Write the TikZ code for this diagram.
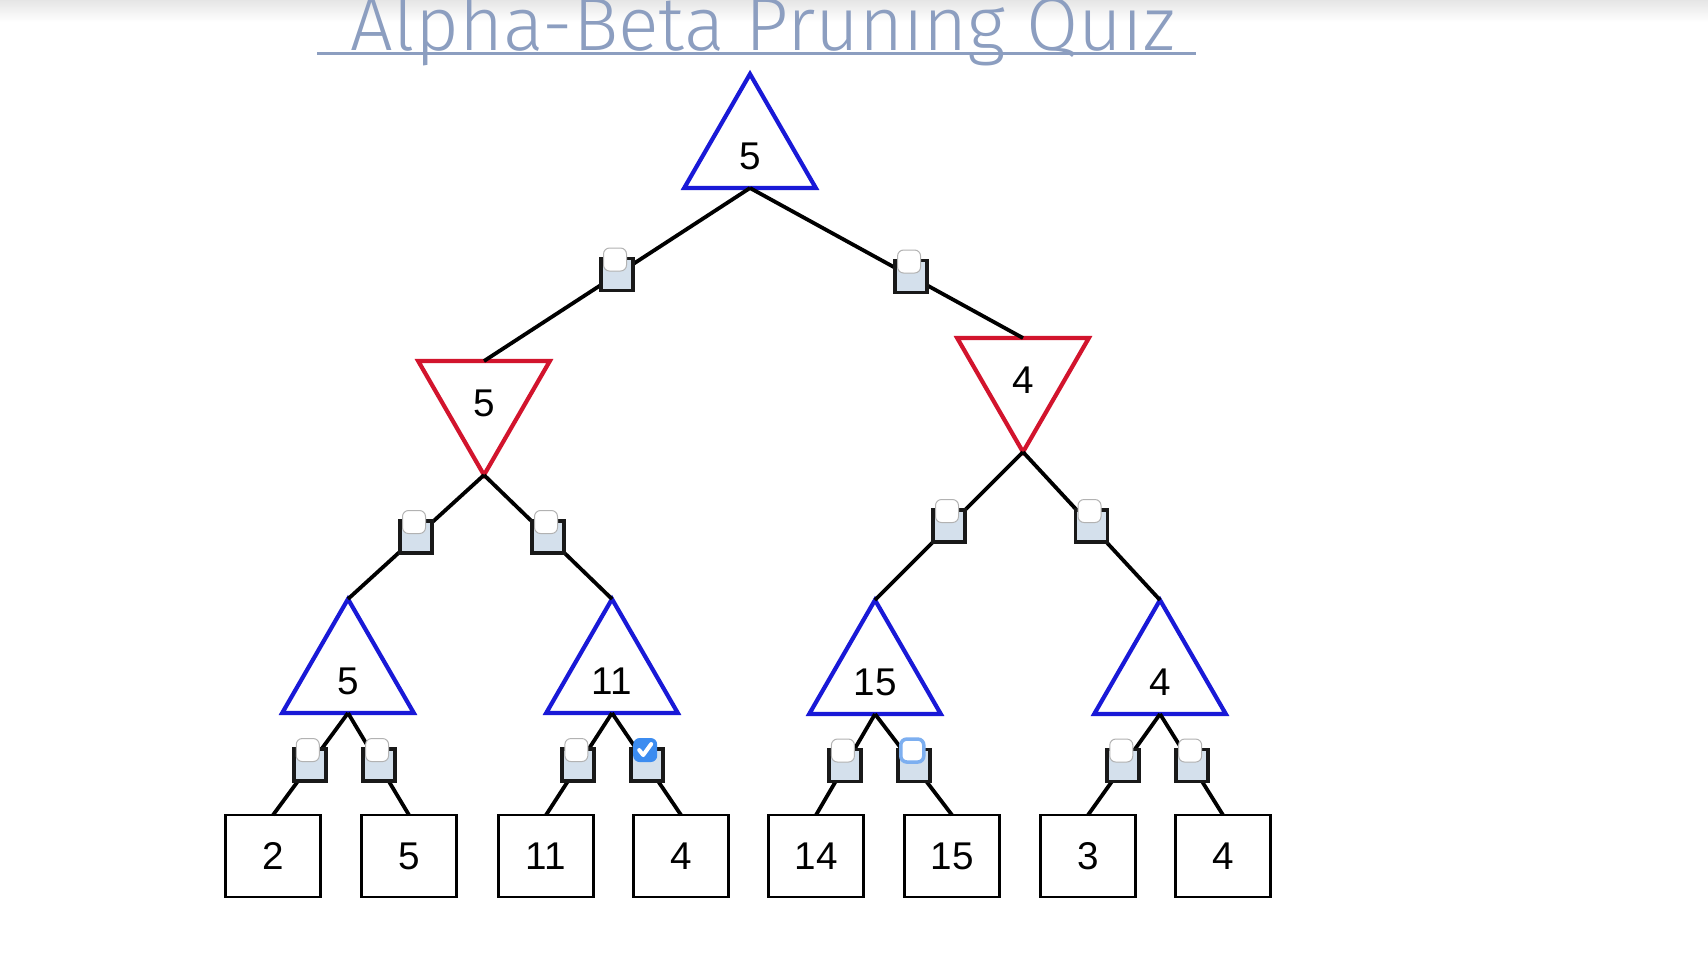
\documentclass[tikz,border=0pt]{standalone}
\usepackage{fontspec}
\setmainfont{Liberation Sans}
\newfontfamily\titlefont{Fira Sans Light}
\usetikzlibrary{shapes.geometric}
\definecolor{maxblue}{RGB}{25,25,215}
\definecolor{minred}{RGB}{210,20,45}
\definecolor{slotfill}{RGB}{212,224,236}
\definecolor{titleblue}{RGB}{140,158,192}
\definecolor{tickblue}{RGB}{60,140,240}
\definecolor{focusblue}{RGB}{125,175,240}

\begin{document}
\begin{tikzpicture}[
    x=0.1mm,
    y=-0.1mm,
    font=\fontsize{11}{13}\selectfont,
    maxnode/.style={draw=maxblue,line width=0.42mm,regular polygon,regular polygon sides=3,
        minimum size=15.2mm,inner sep=0pt,outer sep=0pt,text height=3.9mm,text depth=0pt},
    minnode/.style={maxnode,draw=minred,shape border rotate=180,text height=3.5mm},
    leaf/.style={draw,line width=0.28mm,minimum width=9.5mm,minimum height=8.2mm,
        inner sep=0pt,outer sep=0pt},
    branch/.style={line width=0.38mm},
    slot/.style={draw=black!90,fill=slotfill,line width=0.38mm,minimum size=3.2mm,inner sep=0pt},
    check/.style={draw=black!30,fill=white,line width=0.1mm,rounded corners=0.6mm,
        minimum size=2.3mm,inner sep=0pt},
    checked/.style={check,draw=tickblue,fill=tickblue},
    focused/.style={check,draw=focusblue,line width=0.35mm}
]
    \useasboundingbox (0,0) rectangle (1708,956);
    \fill[white] (0,0) rectangle (1708,956);
    \clip (0,0) rectangle (1708,956);

    % Title
    \shade[top color=black!10,bottom color=white] (0,0) rectangle (1708,22);
    \node[font=\titlefont\fontsize{21.5}{26}\selectfont,text=titleblue,anchor=base,inner sep=0pt]
        (title) at (763,50) {Alpha-Beta Pruning Quiz};
    \draw[titleblue,line width=0.3mm] (317,53) -- (1196,53);

    % Tree
    \node[maxnode] (root) at (750,150) {5};
    \node[minnode] (ml) at (484,399) {5};
    \node[minnode] (mr) at (1023,376) {4};
    \node[maxnode] (a) at (348,675) {5};
    \node[maxnode] (b) at (612,675) {11};
    \node[maxnode] (c) at (875,676) {15};
    \node[maxnode] (d) at (1160,676) {4};
    \foreach \n/\x/\v in {1/273/2,2/409/5,3/546/11,4/681/4,5/816/14,6/952/15,7/1088/3,8/1223/4}{
        \node[leaf] (l\n) at (\x,856) {\v};
    }

    % Branches
    \draw[branch] (root.side 2) -- node[slot] (s1) {} (ml.side 2);
    \draw[branch] (root.side 2) -- node[slot,pos=.59] (s2) {} (mr.side 2);
    \draw[branch] (ml.corner 1) -- node[slot] (s3) {} (a.corner 1);
    \draw[branch] (ml.corner 1) -- node[slot] (s4) {} (b.corner 1);
    \draw[branch] (mr.corner 1) -- node[slot] (s5) {} (c.corner 1);
    \draw[branch] (mr.corner 1) -- node[slot] (s6) {} (d.corner 1);
    \foreach \p/\l/\s in {a/1/7,a/2/8,b/3/9,b/4/10,c/5/11,c/6/12,d/7/13,d/8/14}{
        \draw[branch] (\p.side 2) -- node[slot,pos=.51] (s\s) {} (l\l.north);
    }

    % Answer boxes
    \foreach \s/\st in {1/check,2/check,3/check,4/check,5/check,6/check,7/check,
        8/check,9/check,10/checked,11/check,12/focused,13/check,14/check}{
        \node[\st] (c\s) at ([shift={(-2,-15)}]s\s.center) {};
    }
    \draw[white,line width=0.4mm,line cap=round,line join=round]
        ([shift={(-6,0)}]c10.center) -- ([shift={(-2,5)}]c10.center) -- ([shift={(6,-6)}]c10.center);
\end{tikzpicture}
\end{document}
